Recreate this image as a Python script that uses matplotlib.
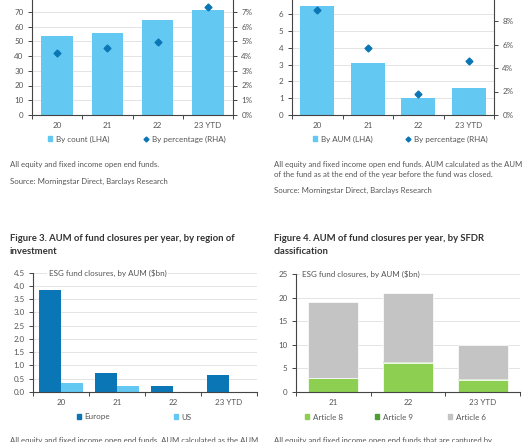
import matplotlib
matplotlib.use('Agg')
import matplotlib.pyplot as plt
from matplotlib.lines import Line2D
from matplotlib.patches import Patch
import numpy as np

# data
years = ["20", "21", "22", "23 YTD"]
count_funds = [53.5, 55.8, 64.3, 71.3]
count_pct = [4.18, 4.56, 4.97, 7.29]

aum_funds = [6.52, 3.08, 0.99, 1.59]
aum_pct = [8.97, 5.71, 1.80, 4.63]

europe = [3.85, 0.73, 0.24, 0.63]
us = [0.35, 0.23, 0.0, 0.01]

sfdr_years = ["21", "22", "23 YTD"]
article8 = [2.95, 6.25, 2.55]
article9 = [0.05, 0.05, 0.25]
article6 = [16.0, 14.7, 7.1]

LIGHT = "#63C8F2"
DARK = "#0B76B6"
GREEN8 = "#8DCF50"
GREEN9 = "#4E9E34"
GREY6 = "#C4C4C4"
AXC = "#444444"
GRID = "#E4E4E4"
TXT = "#555555"

plt.rcParams['font.family'] = ['Lato', 'DejaVu Sans']
W, H = 531, 442
fig = plt.figure(figsize=(W / 100, H / 100), dpi=100)


def px_axes(x0, x1, ytop, ybot):
    return fig.add_axes([x0 / W, 1 - ybot / H, (x1 - x0) / W, (ybot - ytop) / H])


def style(ax, n):
    for s in ['top', 'right']:
        ax.spines[s].set_visible(False)
    ax.spines['left'].set_color(AXC)
    ax.spines['bottom'].set_color(AXC)
    ax.spines['left'].set_linewidth(0.8)
    ax.spines['bottom'].set_linewidth(0.8)
    ax.grid(axis='y', color=GRID, linewidth=0.7)
    ax.set_axisbelow(True)
    ax.set_xlim(-0.5, n - 0.5)
    ax.set_xticks(range(n))
    ax.set_xticks(np.arange(-0.5, n), minor=True)
    ax.tick_params(axis='x', which='major', length=0, labelsize=5.8, colors=TXT, pad=5)
    ax.tick_params(axis='x', which='minor', length=3, color=AXC, width=0.7)
    ax.tick_params(axis='y', length=3, color=AXC, width=0.7, labelsize=5.8, labelcolor=TXT, pad=3)


def right_axis(r):
    for s in ['top', 'left', 'bottom']:
        r.spines[s].set_visible(False)
    r.spines['right'].set_color(AXC)
    r.spines['right'].set_linewidth(0.8)
    r.tick_params(axis='y', length=3, color=AXC, width=0.7, labelsize=5.8, labelcolor=TXT, pad=3)


def txt(x, y, s, **kw):
    kw.setdefault('fontsize', 5.6)
    kw.setdefault('color', TXT)
    fig.text(x / W, 1 - y / H, s, va='center', ha='left', **kw)


def key(x, y, handle, label):
    # one legend entry, placed by the pixel position of its marker
    fig.legend([handle], [label], loc='center left', bbox_to_anchor=((x - 2.5) / W, 1 - y / H),
               frameon=False, borderpad=0, borderaxespad=0, fontsize=5.8, labelcolor=TXT,
               handlelength=0.6, handleheight=0.6, handletextpad=0.4)


def diamond():
    return Line2D([], [], marker='D', ls='', color=DARK, markersize=2.5)


# Figure 1: count
ax1 = px_axes(32, 233, -3, 115)
x = np.arange(len(years))
ax1.bar(x, count_funds, width=0.63, color=LIGHT)
style(ax1, len(years))
ax1.set_xticklabels(years)
ax1.set_ylim(0, 80)
ax1.set_yticks(range(0, 81, 10))
r1 = ax1.twinx()
r1.plot(x, count_pct, 'D', color=DARK, markersize=3.5)
r1.set_ylim(0, 8)
r1.set_yticks(range(0, 9))
r1.set_yticklabels([f"{v}%" for v in range(0, 9)])
right_axis(r1)
key(50, 139, Patch(color=LIGHT), "By count (LHA)")
key(146, 139, diamond(), "By percentage (RHA)")
txt(10, 165, "All equity and fixed income open end funds.")
txt(10, 181, "Source: Morningstar Direct, Barclays Research")

# Figure 2: AUM
ax2 = px_axes(292, 494, -2.5, 115)
ax2.bar(x, aum_funds, width=0.68, color=LIGHT)
style(ax2, len(years))
ax2.set_xticklabels(years)
ax2.set_ylim(0, 7)
ax2.set_yticks(range(0, 8))
r2 = ax2.twinx()
r2.plot(x, aum_pct, 'D', color=DARK, markersize=3.5)
r2.set_ylim(0, 10)
r2.set_yticks(range(0, 11, 2))
r2.set_yticklabels([f"{v}%" for v in range(0, 11, 2)])
right_axis(r2)
key(315, 139, Patch(color=LIGHT), "By AUM (LHA)")
key(408, 139, diamond(), "By percentage (RHA)")
txt(274, 165, "All equity and fixed income open end funds. AUM calculated as the AUM")
txt(274, 175, "of the fund as at the end of the year before the fund was closed.")
txt(274, 190, "Source: Morningstar Direct, Barclays Research")

# Figure 3: by region
txt(10, 239, "Figure 3. AUM of fund closures per year, by region of", fontsize=6.8,
    color="#333333", fontweight='bold')
txt(10, 251, "investment", fontsize=6.8, color="#333333", fontweight='bold')
ax3 = px_axes(33, 257, 272.7, 392)
bw = 0.385
ax3.bar(x - bw / 2, europe, width=bw, color=DARK)
ax3.bar(x + bw / 2, us, width=bw, color=LIGHT)
style(ax3, len(years))
ax3.set_xticklabels(years)
ax3.set_ylim(0, 4.5)
ax3.set_yticks(np.arange(0, 4.51, 0.5))
ax3.set_yticklabels([f"{v:.1f}" for v in np.arange(0, 4.51, 0.5)])
ax3.text(0.07, 1.0, r"ESG fund closures, by AUM (\$bn)", transform=ax3.transAxes,
         fontsize=5.8, color=TXT, va='center', ha='left',
         bbox=dict(facecolor='white', edgecolor='none', pad=1))
key(79, 417, Patch(color=DARK), "Europe")
key(176, 417, Patch(color=LIGHT), "US")

# Figure 4: by SFDR
txt(274, 239, "Figure 4. AUM of fund closures per year, by SFDR", fontsize=6.8,
    color="#333333", fontweight='bold')
txt(274, 251, "classification", fontsize=6.8, color="#333333", fontweight='bold')
ax4 = px_axes(296, 520, 274, 392)
x4 = np.arange(len(sfdr_years))
b8 = np.array(article8)
b9 = np.array(article9)
ax4.bar(x4, article8, width=0.67, color=GREEN8, edgecolor='white', linewidth=0.5)
ax4.bar(x4, article9, width=0.67, bottom=b8, color=GREEN9, edgecolor='none')
ax4.bar(x4, article6, width=0.67, bottom=b8 + b9, color=GREY6, edgecolor='white', linewidth=0.5)
style(ax4, len(sfdr_years))
ax4.set_xticklabels(sfdr_years)
ax4.set_ylim(0, 25)
ax4.set_yticks(range(0, 26, 5))
ax4.text(0.025, 1.0, r"ESG fund closures, by AUM (\$bn)", transform=ax4.transAxes,
         fontsize=5.8, color=TXT, va='center', ha='left',
         bbox=dict(facecolor='white', edgecolor='none', pad=1))
key(307, 417, Patch(color=GREEN8), "Article 8")
key(377, 417, Patch(color=GREEN9), "Article 9")
key(450, 417, Patch(color=GREY6), "Article 6")

txt(10, 441, "All equity and fixed income open end funds. AUM calculated as the AUM")
txt(274, 441, "All equity and fixed income open end funds that are captured by")

fig.savefig("out.png", dpi=100)
